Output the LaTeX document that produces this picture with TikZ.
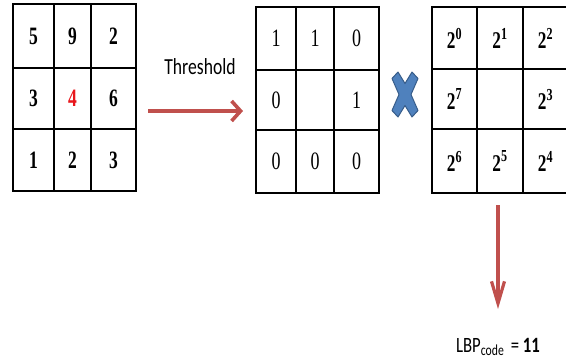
\documentclass[tikz,border=0pt]{standalone}
\usepackage{fontspec}
\setmainfont{Liberation Serif}
\newfontfamily\calib{Carlito}
\usetikzlibrary{arrows.meta}
\definecolor{arrred}{HTML}{C0504D}
\definecolor{xblue}{HTML}{4F81BD}
\definecolor{xedge}{HTML}{385D8A}
\definecolor{numred}{HTML}{E8161B}
\tikzset{
  gridbox/.style={draw=black, line width=2.9pt, inner sep=0pt},
  gridline/.style={draw=black, line width=2.9pt},
  numa/.style={font=\fontsize{25}{27}\selectfont\bfseries, xscale=0.7},
  numb/.style={font=\fontsize{25}{27}\selectfont, xscale=0.72},
  numc/.style={font=\fontsize{24}{27}\selectfont\bfseries, xscale=0.72},
  redarrowh/.style={draw=arrred, line width=3.6pt, -{Straight Barb[length=9pt,width=20pt]}},
  redarrowv/.style={draw=arrred, line width=3.2pt, -{Straight Barb[length=22pt,width=13pt]}},
  lbl/.style={font=\calib\fontsize{20}{22}\selectfont, xscale=0.88, yscale=1.15, inner sep=0pt}
}
\begin{document}
\begin{tikzpicture}[x=1pt,y=-1pt]
\useasboundingbox (0,0) rectangle (566,362);
% grid 1
\node[gridbox, minimum width=123pt, minimum height=187pt] (g1) at (74.5,97.5) {};
\draw[gridline] (54,4) -- (54,191) (91,4) -- (91,191) (13,68) -- (136,68) (13,129) -- (136,129);
\node[numa] (a11) at (33.5,36) {5};
\node[numa] (a12) at (72.5,36) {9};
\node[numa] (a13) at (113.5,36) {2};
\node[numa] (a21) at (33.5,98.5) {3};
\node[numa, text=numred] (a22) at (72.5,98.5) {4};
\node[numa] (a23) at (113.5,98.5) {6};
\node[numa] (a31) at (33.5,160) {1};
\node[numa] (a32) at (72.5,160) {2};
\node[numa] (a33) at (113.5,160) {3};
% grid 2
\node[gridbox, minimum width=123pt, minimum height=186pt] (g2) at (317.5,100) {};
\draw[gridline] (296,7) -- (296,193) (334,7) -- (334,193) (256,70) -- (379,70) (256,130) -- (379,130);
\node[numb] (b11) at (276,38.5) {1};
\node[numb] (b12) at (315,38.5) {1};
\node[numb] (b13) at (356.5,38.5) {0};
\node[numb] (b21) at (276,100) {0};
\node[numb] (b23) at (356.5,100) {1};
\node[numb] (b31) at (276,161.5) {0};
\node[numb] (b32) at (315,161.5) {0};
\node[numb] (b33) at (356.5,161.5) {0};
% grid 3
\node[gridbox, minimum width=136pt, minimum height=186pt] (g3) at (500,100) {};
\draw[gridline] (477,7) -- (477,193) (523,7) -- (523,193) (432,69) -- (568,69) (432,129) -- (568,129);
\node[numc] (c11) at (454.5,38) {2\textsuperscript{0}};
\node[numc] (c12) at (500,38) {2\textsuperscript{1}};
\node[numc] (c13) at (545.5,38) {2\textsuperscript{2}};
\node[numc] (c21) at (454.5,99) {2\textsuperscript{7}};
\node[numc] (c23) at (545.5,99) {2\textsuperscript{3}};
\node[numc] (c31) at (454.5,161) {2\textsuperscript{6}};
\node[numc] (c32) at (500,161) {2\textsuperscript{5}};
\node[numc] (c33) at (545.5,161) {2\textsuperscript{4}};
% multiply sign
\begin{scope}[shift={(405,94.5)}]
\fill[xblue, draw=xedge, line width=1pt, line join=round]
  (-13,-16) -- (-7,-22.5) -- (0,-11) -- (7,-22.5) -- (13,-16) -- (6,0) -- (13,16) -- (7,22.5) -- (0,11) -- (-7,22.5) -- (-13,16) -- (-6,0) -- cycle;
\end{scope}
% threshold arrow
\node[lbl] (thr) at (200,67) {Threshold};
\coordinate (t1) at (148,111);
\coordinate (t2) at (243,111);
\draw[redarrowh] (t1) -- (t2);
% down arrow
\coordinate (d1) at (498,205);
\coordinate (d2) at (498,309);
\draw[redarrowv] (d1) -- (d2);
\node[font=\calib\fontsize{19}{22}\selectfont, xscale=0.88, yscale=1.15, inner sep=0pt] (lbp) at (498,347) {LBP\textsubscript{code} \,= \textbf{11}};
\end{tikzpicture}
\end{document}
